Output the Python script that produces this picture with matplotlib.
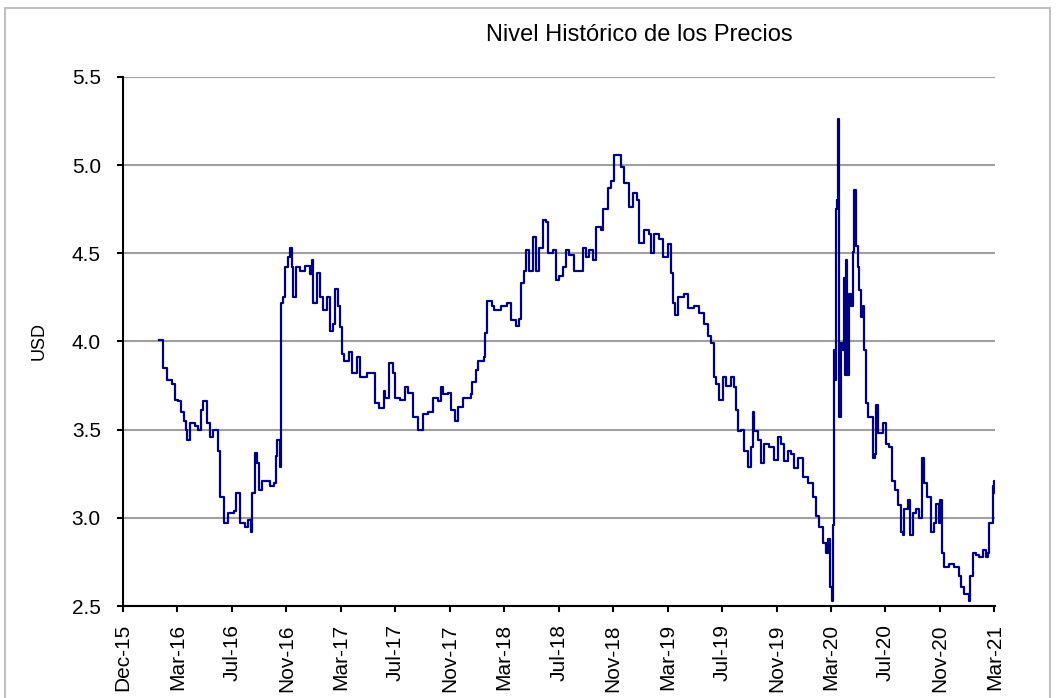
import numpy as np
import pandas as pd
import matplotlib
matplotlib.use("Agg")
import matplotlib.pyplot as plt
import matplotlib.dates as mdates
from matplotlib.patches import Rectangle

plt.rcParams['font.family'] = ['Liberation Sans', 'DejaVu Sans']

# data
fechas = [
    "2016-02-18", "2016-02-27", "2016-03-07", "2016-03-18", "2016-03-25", "2016-03-31",
    "2016-04-07", "2016-04-14", "2016-04-18", "2016-04-20", "2016-04-27", "2016-05-08",
    "2016-05-15", "2016-05-21", "2016-05-26", "2016-06-03", "2016-06-10", "2016-06-17",
    "2016-06-28", "2016-07-02", "2016-07-11", "2016-07-20", "2016-08-02", "2016-08-06",
    "2016-08-15", "2016-08-26", "2016-09-02", "2016-09-08", "2016-09-11", "2016-09-17",
    "2016-09-22", "2016-09-26", "2016-10-03", "2016-10-20", "2016-10-29", "2016-11-03",
    "2016-11-05", "2016-11-11", "2016-11-14", "2016-11-18", "2016-11-23", "2016-11-29",
    "2016-12-04", "2016-12-08",
    "2016-12-10", "2016-12-17", "2016-12-26", "2017-01-06", "2017-01-17", "2017-01-21",
    "2017-01-23", "2017-02-01", "2017-02-08", "2017-02-14", "2017-02-23", "2017-03-02",
    "2017-03-08", "2017-03-13", "2017-03-19", "2017-03-24", "2017-03-28", "2017-03-31",
    "2017-04-11", "2017-04-19", "2017-04-30", "2017-05-07", "2017-05-22", "2017-06-03",
    "2017-06-09", "2017-06-16", "2017-06-27", "2017-07-01", "2017-07-08", "2017-07-17",
    "2017-07-23", "2017-08-03", "2017-08-14", "2017-08-21", "2017-09-01", "2017-09-12",
    "2017-09-21", "2017-10-02", "2017-10-13", "2017-10-24", "2017-10-31",
    "2017-11-06", "2017-11-15", "2017-11-22", "2017-12-01", "2017-12-09", "2017-12-20",
    "2018-01-05", "2018-01-09", "2018-01-16", "2018-01-22", "2018-02-03", "2018-02-05",
    "2018-02-11", "2018-02-22", "2018-02-25", "2018-03-12", "2018-03-27", "2018-04-03",
    "2018-04-14", "2018-04-21", "2018-04-25", "2018-05-02", "2018-05-06", "2018-05-13",
    "2018-05-22", "2018-05-28", "2018-06-04", "2018-06-13", "2018-06-19", "2018-06-24",
    "2018-07-05", "2018-07-11", "2018-07-18", "2018-07-27", "2018-08-02", "2018-08-09",
    "2018-08-20", "2018-08-25",
    "2018-09-09", "2018-09-16", "2018-09-22", "2018-10-01", "2018-10-08", "2018-10-19",
    "2018-10-23", "2018-11-03", "2018-11-10", "2018-11-16", "2018-11-25", "2018-12-02",
    "2018-12-09", "2018-12-20", "2018-12-28", "2019-01-06", "2019-01-11", "2019-01-22",
    "2019-02-02", "2019-02-06", "2019-02-13", "2019-02-24", "2019-03-05", "2019-03-16",
    "2019-03-22", "2019-03-27", "2019-03-31", "2019-04-07", "2019-04-20", "2019-04-29",
    "2019-05-12", "2019-05-23", "2019-06-03", "2019-06-12", "2019-06-19", "2019-06-25",
    "2019-06-30", "2019-07-06",
    "2019-07-15", "2019-07-22", "2019-08-02", "2019-08-08", "2019-08-13", "2019-08-17",
    "2019-08-24", "2019-08-30", "2019-09-08", "2019-09-15", "2019-09-19", "2019-09-21",
    "2019-09-30", "2019-10-07", "2019-10-13", "2019-10-25", "2019-11-05", "2019-11-13",
    "2019-11-20", "2019-11-27", "2019-12-05", "2019-12-12", "2019-12-19", "2019-12-28",
    "2020-01-05", "2020-01-08", "2020-01-19", "2020-01-30", "2020-02-05", "2020-02-12",
    "2020-02-21", "2020-02-27", "2020-03-03", "2020-03-07", "2020-03-12", "2020-03-14",
    "2020-03-16",
    "2020-03-18", "2020-03-20", "2020-03-22", "2020-03-25", "2020-03-27", "2020-03-31",
    "2020-04-05", "2020-04-07", "2020-04-09", "2020-04-11", "2020-04-14", "2020-04-18",
    "2020-04-22", "2020-04-27", "2020-04-29", "2020-05-04", "2020-05-08", "2020-05-10",
    "2020-05-15", "2020-05-19", "2020-05-21", "2020-05-26", "2020-05-30", "2020-06-06",
    "2020-06-10", "2020-06-14", "2020-06-17", "2020-06-21", "2020-07-02", "2020-07-09",
    "2020-07-15", "2020-07-22", "2020-07-29", "2020-08-04", "2020-08-11", "2020-08-15",
    "2020-08-17", "2020-08-26", "2020-08-31", "2020-09-06", "2020-09-13", "2020-09-20",
    "2020-09-26", "2020-10-01", "2020-10-07", "2020-10-16", "2020-10-23", "2020-10-27",
    "2020-11-01", "2020-11-05", "2020-11-09", "2020-11-14", "2020-11-25", "2020-12-06",
    "2020-12-15", "2020-12-21", "2020-12-28", "2021-01-06", "2021-01-10", "2021-01-17",
    "2021-01-23", "2021-01-30", "2021-02-08", "2021-02-14", "2021-02-19", "2021-02-21",
    "2021-02-28", "2021-03-04", "2021-03-06",
]
precios = [
    4.01, 3.85, 3.78, 3.76, 3.67, 3.66,
    3.60, 3.55, 3.50, 3.44, 3.54, 3.52,
    3.50, 3.61, 3.66, 3.54, 3.46, 3.50,
    3.38, 3.12, 2.97, 3.03, 3.04, 3.14,
    2.97, 2.95, 2.99, 2.92, 3.14, 3.37,
    3.31, 3.16, 3.21, 3.18, 3.20, 3.35,
    3.44, 3.29, 4.22, 4.25, 4.42, 4.48,
    4.53, 4.42,
    4.25, 4.42, 4.40, 4.43, 4.38, 4.46,
    4.22, 4.39, 4.25, 4.18, 4.25, 4.06,
    4.10, 4.30, 4.20, 4.08, 3.93, 3.89,
    3.94, 3.82, 3.91, 3.80, 3.82, 3.82,
    3.65, 3.62, 3.72, 3.68, 3.88, 3.82,
    3.68, 3.67, 3.74, 3.71, 3.57, 3.50,
    3.59, 3.60, 3.68, 3.66, 3.74,
    3.70, 3.71, 3.61, 3.55, 3.63, 3.68,
    3.70, 3.77, 3.84, 3.89, 3.91, 4.05,
    4.23, 4.20, 4.18, 4.20, 4.22, 4.12,
    4.09, 4.13, 4.33, 4.40, 4.52, 4.40,
    4.59, 4.40, 4.53, 4.69, 4.68, 4.50,
    4.52, 4.35, 4.37, 4.42, 4.52, 4.49,
    4.40, 4.40,
    4.53, 4.48, 4.52, 4.46, 4.65, 4.63,
    4.75, 4.87, 4.91, 5.06, 5.06, 4.99,
    4.90, 4.76, 4.84, 4.80, 4.56, 4.63,
    4.61, 4.50, 4.61, 4.58, 4.48, 4.55,
    4.39, 4.22, 4.15, 4.25, 4.27, 4.19,
    4.20, 4.16, 4.10, 4.03, 3.99, 3.80,
    3.76, 3.67,
    3.80, 3.75, 3.80, 3.74, 3.61, 3.49,
    3.50, 3.38, 3.29, 3.40, 3.60, 3.49,
    3.44, 3.31, 3.42, 3.40, 3.33, 3.46,
    3.42, 3.32, 3.38, 3.36, 3.28, 3.34,
    3.34, 3.23, 3.20, 3.12, 3.01, 2.95,
    2.86, 2.80, 2.88, 2.61, 2.53, 2.96,
    3.95,
    3.78, 4.75, 4.80, 5.26, 3.57, 3.99,
    3.95, 4.36, 3.81, 4.46, 3.81, 4.27,
    4.20, 4.51, 4.86, 4.54, 4.42, 4.29,
    4.14, 4.20, 3.95, 3.65, 3.57, 3.57,
    3.34, 3.36, 3.64, 3.48, 3.54, 3.42,
    3.40, 3.21, 3.16, 3.07, 2.92, 2.90,
    3.05, 3.10, 2.90, 3.03, 3.05, 3.00,
    3.34, 3.20, 3.12, 2.92, 2.97, 3.08,
    2.97, 3.10, 2.80, 2.72, 2.74, 2.72,
    2.67, 2.61, 2.57, 2.53, 2.67, 2.80,
    2.79, 2.78, 2.82, 2.78, 2.80, 2.97,
    3.18, 3.21, 3.14,
]

inicio_eje = "2015-12-01"
fin_eje = "2021-03-06"
dias_entre_marcas = 120
y_marcas = [2.5, 3.0, 3.5, 4.0, 4.5, 5.0, 5.5]

fechas = pd.to_datetime(fechas)
marcas_x = pd.date_range(inicio_eje, periods=17, freq=f"{dias_entre_marcas}D")

fig = plt.figure(figsize=(10.56, 6.98), dpi=100)
ax = fig.add_axes([0.1165, 0.1318, 0.826, 0.758])

ax.plot(fechas, precios, color="#000080", lw=1.6, drawstyle="steps-post", zorder=3)

ax.set_xlim(pd.Timestamp(inicio_eje), pd.Timestamp(fin_eje))
ax.set_ylim(2.5, 5.5)
ax.set_yticks(y_marcas)
ax.set_yticklabels([f"{v:.1f}" for v in y_marcas])
ax.set_xticks(marcas_x)
ax.xaxis.set_major_formatter(mdates.DateFormatter("%b-%y"))
plt.setp(ax.get_xticklabels(), rotation=90)

ax.grid(axis="y", color="#a0a0a0", lw=1.5, zorder=0)
ax.set_axisbelow(True)
for s in ["top", "right"]:
    ax.spines[s].set_visible(False)
for s in ["left", "bottom"]:
    ax.spines[s].set_color("black")
    ax.spines[s].set_linewidth(1.5)
ax.tick_params(axis="both", direction="out", length=4, width=1.5, labelsize=15, colors="black")
ax.tick_params(axis="x", pad=9)
ax.tick_params(axis="y", pad=12)

ax.set_ylabel("USD", fontsize=13, labelpad=17)
fig.text(0.605, 0.95, "Nivel Histórico de los Precios", ha="center", va="center", fontsize=17)

# marco gris del grafico
fig.patches.append(Rectangle((5 / 1056, -0.02), 1045 / 1056, 1 - 8 / 698 + 0.02,
                             transform=fig.transFigure, fill=False,
                             edgecolor="#c0c0c0", lw=1.5))

fig.savefig("out.png", dpi=100)
